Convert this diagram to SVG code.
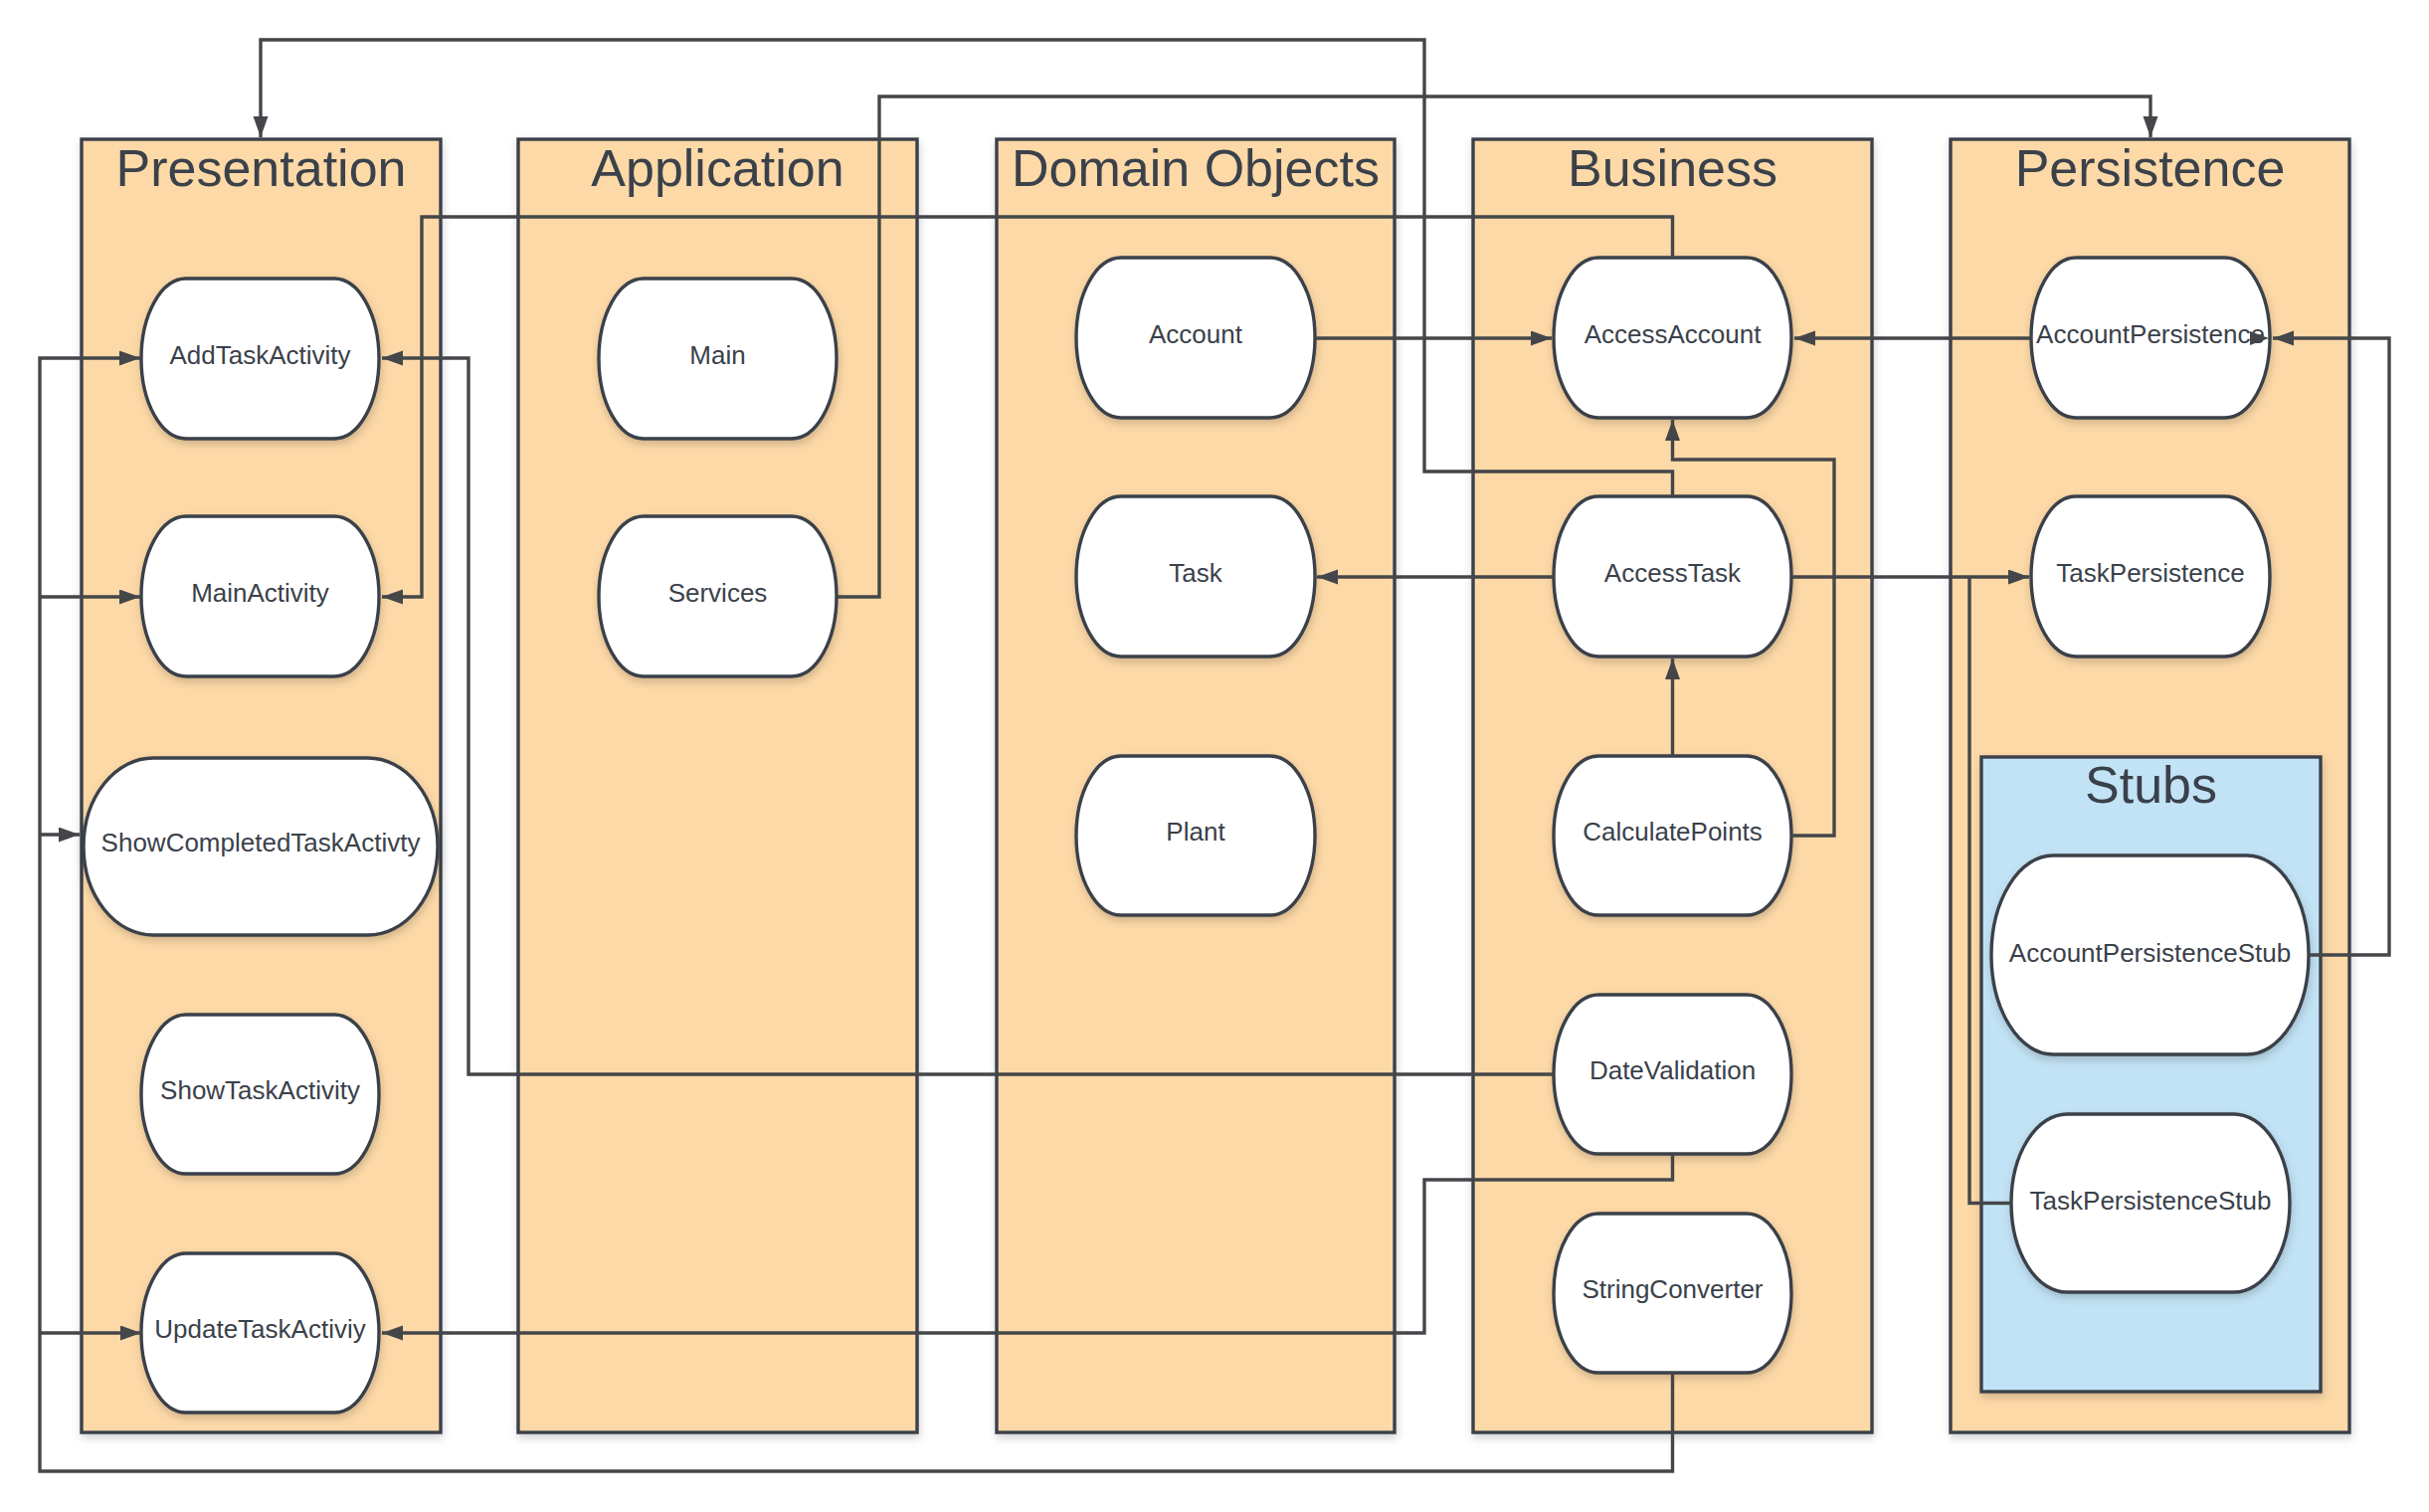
<svg xmlns="http://www.w3.org/2000/svg" width="2442" height="1520" viewBox="0 0 2442 1520">
<style>
.box{fill:#FDD9A7;stroke:#3a414a;stroke-width:3.4;filter:url(#sh)}
.stub{fill:#C2E3F5;stroke:#3a414a;stroke-width:3.4;filter:url(#sh)}
.node{fill:#ffffff;stroke:#3a414a;stroke-width:3.4;filter:url(#sh)}
.title{font-family:"Liberation Sans",Arial,sans-serif;font-size:52px;fill:#3a414a;text-anchor:middle}
.lbl{font-family:"Liberation Sans",Arial,sans-serif;font-size:26px;fill:#3a414a;text-anchor:middle}
.c{fill:none;stroke:#444649;stroke-width:3.4}
.a{marker-end:url(#arr)}
</style>
<defs>
<filter id="sh" x="-10%" y="-10%" width="120%" height="130%">
<feDropShadow dx="1" dy="4" stdDeviation="4" flood-color="#000" flood-opacity="0.18"/>
</filter>
<marker id="arr" markerUnits="userSpaceOnUse" markerWidth="22" markerHeight="16" refX="21" refY="7.5" orient="auto">
<path d="M0,0 L21,7.5 L0,15 z" fill="#444649"/>
</marker>
</defs>
<rect width="2442" height="1520" fill="#ffffff"/>

<g id="presentation">
<rect class="box" x="82" y="140" width="361" height="1300"/>
<text class="title" x="262.5" y="187">Presentation</text>
</g>
<g id="application">
<rect class="box" x="521" y="140" width="401" height="1300"/>
<text class="title" x="721.5" y="187">Application</text>
</g>
<g id="domain-objects">
<rect class="box" x="1002" y="140" width="400" height="1300"/>
<text class="title" x="1202" y="187">Domain Objects</text>
</g>
<g id="business">
<rect class="box" x="1481" y="140" width="401" height="1300"/>
<text class="title" x="1681.5" y="187">Business</text>
</g>
<g id="persistence">
<rect class="box" x="1961" y="140" width="401" height="1300"/>
<text class="title" x="2161.5" y="187">Persistence</text>
</g>
<g id="stubs">
<rect class="stub" x="1992" y="761" width="341" height="638"/>
<text class="title" x="2162.5" y="807">Stubs</text>
</g>

<g id="AddTaskActivity"><rect class="node" x="142" y="280" width="239" height="161" rx="45" ry="80.5"/><text class="lbl" x="261.5" y="366">AddTaskActivity</text></g>
<g id="MainActivity"><rect class="node" x="142" y="519" width="239" height="161" rx="45" ry="80.5"/><text class="lbl" x="261.5" y="605">MainActivity</text></g>
<g id="ShowCompletedTaskActivty"><rect class="node" x="84" y="762" width="356" height="178" rx="70" ry="89"/><text class="lbl" x="262" y="856">ShowCompletedTaskActivty</text></g>
<g id="ShowTaskActivity"><rect class="node" x="142" y="1020" width="239" height="160" rx="45" ry="80"/><text class="lbl" x="261.5" y="1105">ShowTaskActivity</text></g>
<g id="UpdateTaskActiviy"><rect class="node" x="142" y="1260" width="239" height="160" rx="45" ry="80"/><text class="lbl" x="261.5" y="1345">UpdateTaskActiviy</text></g>

<g id="Main"><rect class="node" x="602" y="280" width="239" height="161" rx="45" ry="80.5"/><text class="lbl" x="721.5" y="366">Main</text></g>
<g id="Services"><rect class="node" x="602" y="519" width="239" height="161" rx="45" ry="80.5"/><text class="lbl" x="721.5" y="605">Services</text></g>

<g id="Account"><rect class="node" x="1082" y="259" width="240" height="161" rx="45" ry="80.5"/><text class="lbl" x="1202" y="345">Account</text></g>
<g id="Task"><rect class="node" x="1082" y="499" width="240" height="161" rx="45" ry="80.5"/><text class="lbl" x="1202" y="585">Task</text></g>
<g id="Plant"><rect class="node" x="1082" y="760" width="240" height="160" rx="45" ry="80"/><text class="lbl" x="1202" y="845">Plant</text></g>

<g id="AccessAccount"><rect class="node" x="1562" y="259" width="239" height="161" rx="45" ry="80.5"/><text class="lbl" x="1681.5" y="345">AccessAccount</text></g>
<g id="AccessTask"><rect class="node" x="1562" y="499" width="239" height="161" rx="45" ry="80.5"/><text class="lbl" x="1681.5" y="585">AccessTask</text></g>
<g id="CalculatePoints"><rect class="node" x="1562" y="760" width="239" height="160" rx="45" ry="80"/><text class="lbl" x="1681.5" y="845">CalculatePoints</text></g>
<g id="DateValidation"><rect class="node" x="1562" y="1000" width="239" height="160" rx="45" ry="80"/><text class="lbl" x="1681.5" y="1085">DateValidation</text></g>
<g id="StringConverter"><rect class="node" x="1562" y="1220" width="239" height="160" rx="45" ry="80"/><text class="lbl" x="1681.5" y="1305">StringConverter</text></g>

<g id="AccountPersistence"><rect class="node" x="2042" y="259" width="240" height="161" rx="45" ry="80.5"/><text class="lbl" x="2162" y="345">AccountPersistence</text></g>
<g id="TaskPersistence"><rect class="node" x="2042" y="499" width="240" height="161" rx="45" ry="80.5"/><text class="lbl" x="2162" y="585">TaskPersistence</text></g>
<g id="AccountPersistenceStub"><rect class="node" x="2002" y="860" width="319" height="200" rx="62" ry="100"/><text class="lbl" x="2161.5" y="967">AccountPersistenceStub</text></g>
<g id="TaskPersistenceStub"><rect class="node" x="2022" y="1120" width="280" height="179" rx="56" ry="89.5"/><text class="lbl" x="2162" y="1216">TaskPersistenceStub</text></g>

<g id="connectors">
<path class="c a" d="M1681.5,499 V474 H1432 V40 H262 V138"/>
<path class="c a" d="M842,600 H884 V97 H2162 V138"/>
<path class="c a" d="M1681.5,259 V218 H424 V600 H384"/>
<path class="c a" d="M1562,1080 H471 V360 H384"/>
<path class="c a" d="M1681.5,1160 V1186 H1432 V1340 H384"/>
<path class="c a" d="M1681.5,1380 V1479 H40 V360 H141"/>
<path class="c a" d="M40,600 H141"/>
<path class="c a" d="M40,839 H80"/>
<path class="c a" d="M40,1340 H142"/>
<path class="c a" d="M1322,340 H1560"/>
<path class="c a" d="M2042,340 H1804"/>
<path class="c a" d="M1562,580 H1324"/>
<path class="c a" d="M1801,580 H2040"/>
<path class="c a" d="M1681.5,760 V662"/>
<path class="c a" d="M1801,840 H1844 V462 H1681.5 V422"/>
<path class="c" d="M2022,1209.5 H1980 V580"/>
<path class="c a" d="M2321,960 H2402 V340 H2285"/>
<path d="M2262,333 L2281,340 L2262,347 z" fill="#444649"/>
</g>
</svg>
